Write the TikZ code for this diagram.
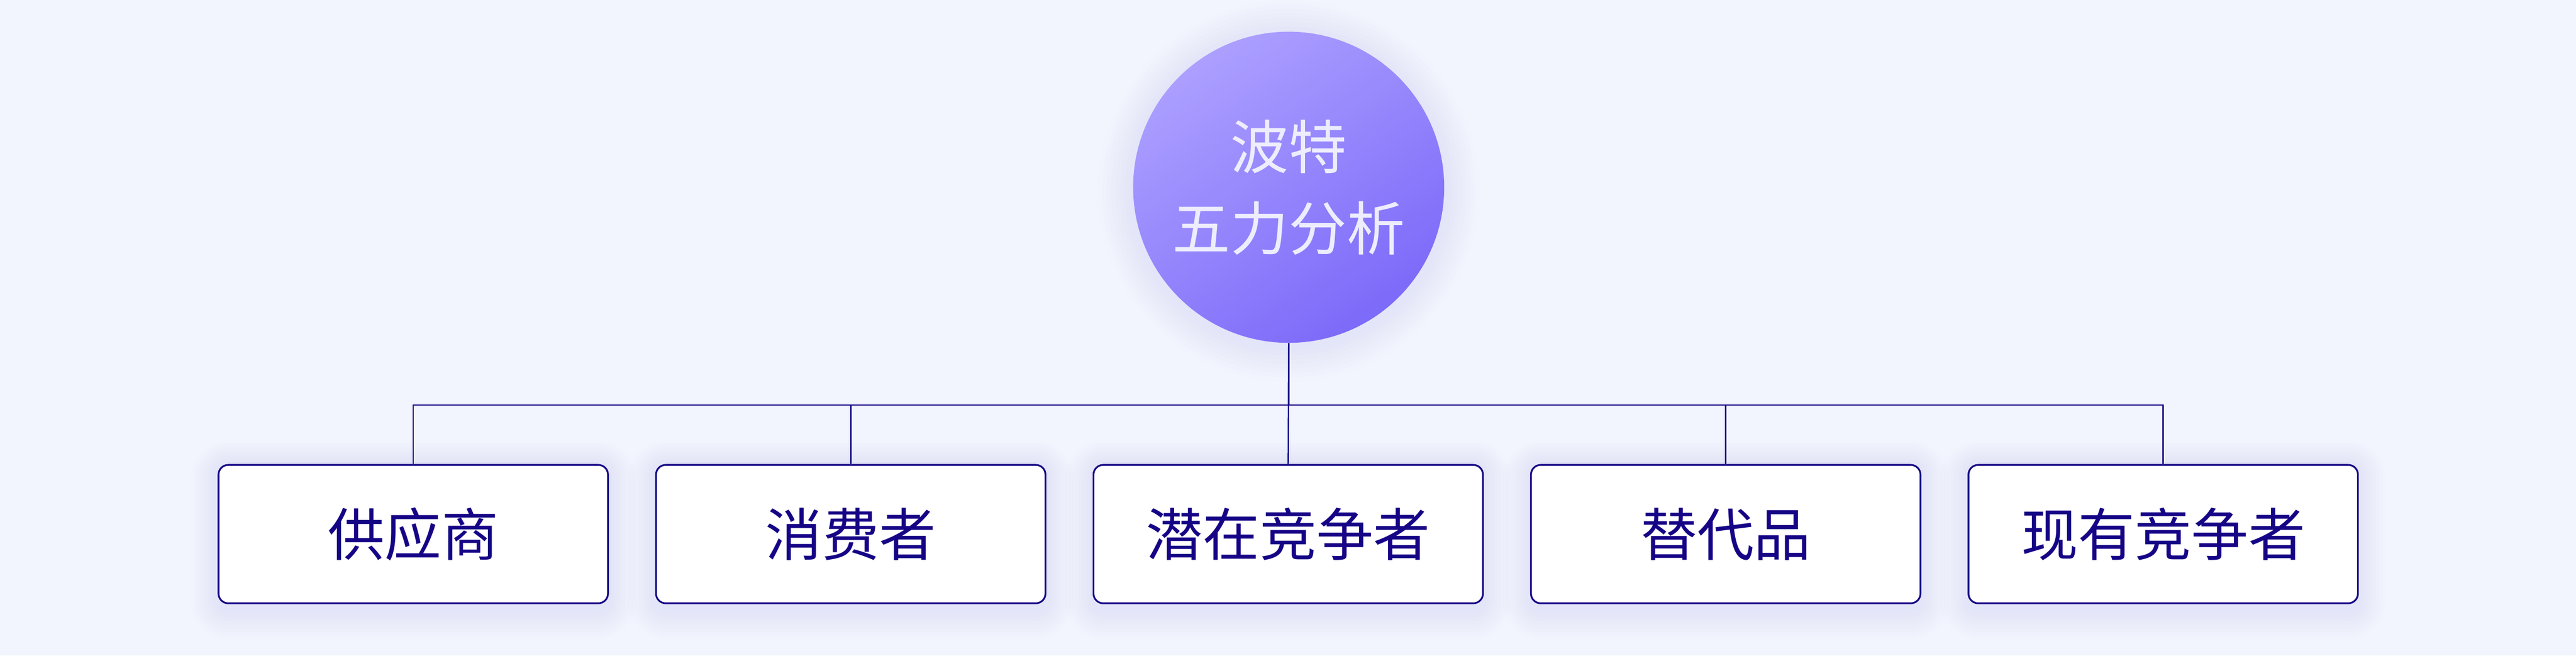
\documentclass[tikz,border=0pt]{standalone}
\usepackage{fontspec}
\newfontfamily\cjk{Noto Sans CJK SC}
\usepackage{tikz}

\definecolor{pageBg}{HTML}{F3F5FE}
\definecolor{navyInk}{HTML}{160486}
\definecolor{glowInk}{HTML}{C8C8F8}
\definecolor{coreTop}{HTML}{AC9FFF}
\definecolor{coreBot}{HTML}{7C6AF9}
\definecolor{coreText}{HTML}{EDEDFD}

\begin{document}
\begin{tikzpicture}[
    force/.style={draw=navyInk, line width=0.04cm, fill=white, rounded corners=0.22cm,
      minimum width=8.84cm, minimum height=3.14cm, inner sep=0pt,
      text=navyInk, font=\cjk\fontsize{36.7pt}{44pt}\selectfont},
    core/.style={circle, minimum size=7.06cm, inner sep=0pt, shading=axis,
      top color=coreTop, bottom color=coreBot, shading angle=35, align=center,
      text=coreText, font=\cjk\fontsize{37.5pt}{52.6pt}\selectfont},
    glow/.style={fill=glowInk, fill opacity=0.042},
    link/.style={draw=navyInk, line width=0.03cm}
  ]
  \fill[pageBg] (0,0) rectangle (58.47,14.88);
  \useasboundingbox (0,0) rectangle (58.47,14.88);

  % soft halo behind the circle and the boxes
  \foreach \g in {1,...,8}
    \fill[glow] (29.25,10.55) circle ({3.53+0.1*\g});
  \foreach \x in {9.38,19.31,29.24,39.17,49.10}
    \foreach \g in {1,...,8}
      \fill[glow, rounded corners={0.22cm+0.08cm*\g}]
        ({\x-4.42-0.08*\g},{1.04-0.085*\g}) rectangle ({\x+4.42+0.08*\g},{4.33+0.07*\g});

  \node[core] (Porter) at (29.25,10.63) {波特\\五力分析};

  \node[force] (Supplier) at (9.38,2.76) {供应商};
  \node[force] (Buyer) at (19.31,2.76) {消费者};
  \node[force] (Entrant) at (29.24,2.76) {潜在竞争者};
  \node[force] (Substitute) at (39.17,2.76) {替代品};
  \node[force] (Rival) at (49.10,2.76) {现有竞争者};

  \draw[link] (Supplier.north) -- ++(0,1.34) -| (Porter.south);
  \draw[link] (Buyer.north) -- ++(0,1.34) -| (Porter.south);
  \draw[link] (Entrant.north) -- (Porter.south);
  \draw[link] (Substitute.north) -- ++(0,1.34) -| (Porter.south);
  \draw[link] (Rival.north) -- ++(0,1.34) -| (Porter.south);
\end{tikzpicture}
\end{document}
